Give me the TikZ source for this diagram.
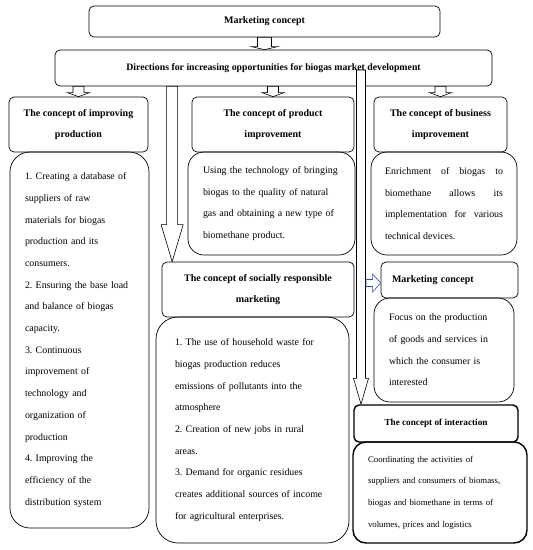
\documentclass[tikz,border=0pt]{standalone}
\usepackage{fontspec}
\setmainfont{Liberation Serif}
\usetikzlibrary{calc}
\frenchspacing
\definecolor{mktblue}{HTML}{2F5597}
\newcommand{\bodyfont}{\fontsize{9.9}{21.7}\selectfont}
\newcommand{\headfont}{\bfseries\fontsize{10}{21}\selectfont}
% hollow block arrows: [style]{from}{to}{shaft half}{head half}{head length}
\newcommand{\hollowdown}[6][]{%
  \draw[hollow,#1] let \p1=(#2), \p2=(#3) in
    (\x1-#4,\y1) -- (\x1-#4,\y2+#6) -- (\x1-#5,\y2+#6) -- (\x1,\y2)
    -- (\x1+#5,\y2+#6) -- (\x1+#4,\y2+#6) -- (\x1+#4,\y1) -- cycle;}
\newcommand{\hollowright}[6][]{%
  \draw[hollow,#1] let \p1=(#2), \p2=(#3) in
    (\x1,\y1-#4) -- (\x2-#6,\y1-#4) -- (\x2-#6,\y1-#5) -- (\x2,\y1)
    -- (\x2-#6,\y1+#5) -- (\x2-#6,\y1+#4) -- (\x1,\y1+#4) -- cycle;}
\tikzset{
  hdrbox/.style={draw, line width=0.7pt, rounded corners=5pt, align=center, font=\headfont, inner ysep=0pt},
  bodybox/.style={draw, line width=0.7pt, rounded corners=16pt, align=left, font=\bodyfont, inner xsep=15pt, inner ysep=0pt},
  hollow/.style={draw, fill=white, line width=0.6pt, line join=miter},
}
\begin{document}
\begin{tikzpicture}[x=1pt, y=-1pt]
\useasboundingbox (0,0) rectangle (533,550);

% Top level
\node[hdrbox, minimum width=351, minimum height=31] (mc) at (264.5,21.5) {Marketing concept};
\node[hdrbox, font=\bfseries\fontsize{9.8}{21}\selectfont, minimum width=437, minimum height=36] (dir) at (273.5,68)
  {Directions for increasing opportunities for biogas market development};

% Improving production
\node[hdrbox, minimum width=139, minimum height=55] (hprod) at (78.5,124.5)
  {The concept of improving\\production};
\node[bodybox, rounded corners=20pt, text width=109, inner xsep=15pt, minimum height=376] (bprod) at (79.5,340)
  {1. Creating a database of\\suppliers of raw\\materials for biogas\\production and its\\consumers.\\
   2. Ensuring the base load\\and balance of biogas\\capacity.\\3. Continuous\\improvement of\\
   technology and\\organization of\\production\\4. Improving the\\efficiency of the\\distribution system};

% Product improvement
\node[hdrbox, minimum width=162, minimum height=55] (hpi) at (273,124.5)
  {The concept of product\\improvement};
\node[bodybox, text width=137, minimum height=103] (bpi) at (271.5,203.5)
  {Using the technology of bringing\\biogas to the quality of natural\\gas and obtaining a new type of\\biomethane product.};

% Business improvement
\node[hdrbox, minimum width=133, minimum height=55] (hbi) at (440.5,124.5)
  {The concept of business\\improvement};
\node[bodybox, align=justify, inner xsep=14pt, text width=118, minimum height=103] (bbi) at (444,203.5)
  {Enrichment of biogas to\linebreak biomethane allows its\linebreak implementation for various\linebreak technical devices.};

% Socially responsible marketing
\node[hdrbox, minimum width=192, minimum height=55] (hsr) at (258,289.5)
  {The concept of socially responsible\\marketing};
\node[bodybox, rounded corners=22pt, inner xsep=19pt, text width=155, minimum height=226] (bsr) at (252.5,430)
  {1. The use of household waste for\\biogas production reduces\\emissions of pollutants into the\\atmosphere\\
   2. Creation of new jobs in rural\\areas.\\3. Demand for organic residues\\
   creates additional sources of income\\for agricultural enterprises.};

% Marketing concept
\node[hdrbox, align=left, inner xsep=11pt, text width=115, minimum height=36] (hmk) at (449.5,280)
  {Marketing concept};
\node[bodybox, text width=110, minimum height=104] (bmk) at (444,350)
  {Focus on the production\\of goods and services in\\which the consumer is\\interested};

% Interaction
\node[hdrbox, line width=1.4pt, font=\bfseries\fontsize{9.2}{20}\selectfont, minimum width=164, minimum height=37] (hin) at (436,423.5)
  {The concept of interaction};
\node[bodybox, line width=1.4pt, rounded corners=13pt, font=\fontsize{8.8}{21.7}\selectfont, text width=144, minimum height=101] (bin) at (440,492.5)
  {Coordinating the activities of\\suppliers and consumers of biomass,\\biogas and biomethane in terms of\\volumes, prices and logistics};

% Arrows
\hollowdown{mc.south}{dir.north}{7pt}{13pt}{3pt}
\hollowdown{dir.south -| hprod.north}{hprod.north}{5.5pt}{11pt}{4pt}
\hollowdown{dir.south -| hpi.north}{hpi.north}{5.5pt}{11pt}{4pt}
\hollowdown{dir.south -| hbi.north}{hbi.north}{5.5pt}{11pt}{4pt}

\coordinate (tipsr) at ($(hsr.north west)+(10.5,0)$);
\hollowdown{dir.south -| tipsr}{tipsr}{5.5pt}{11pt}{37pt}

\coordinate (tipin) at ($(hin.north west)+(7,0)$);
\coordinate (startin) at (361,70);
\hollowdown{startin}{tipin}{4.5pt}{7.5pt}{26pt}

\coordinate (startmk) at (366,283);
\hollowright[draw=mktblue]{startmk}{hmk.west}{3.5pt}{9pt}{8pt}
\end{tikzpicture}
\end{document}
